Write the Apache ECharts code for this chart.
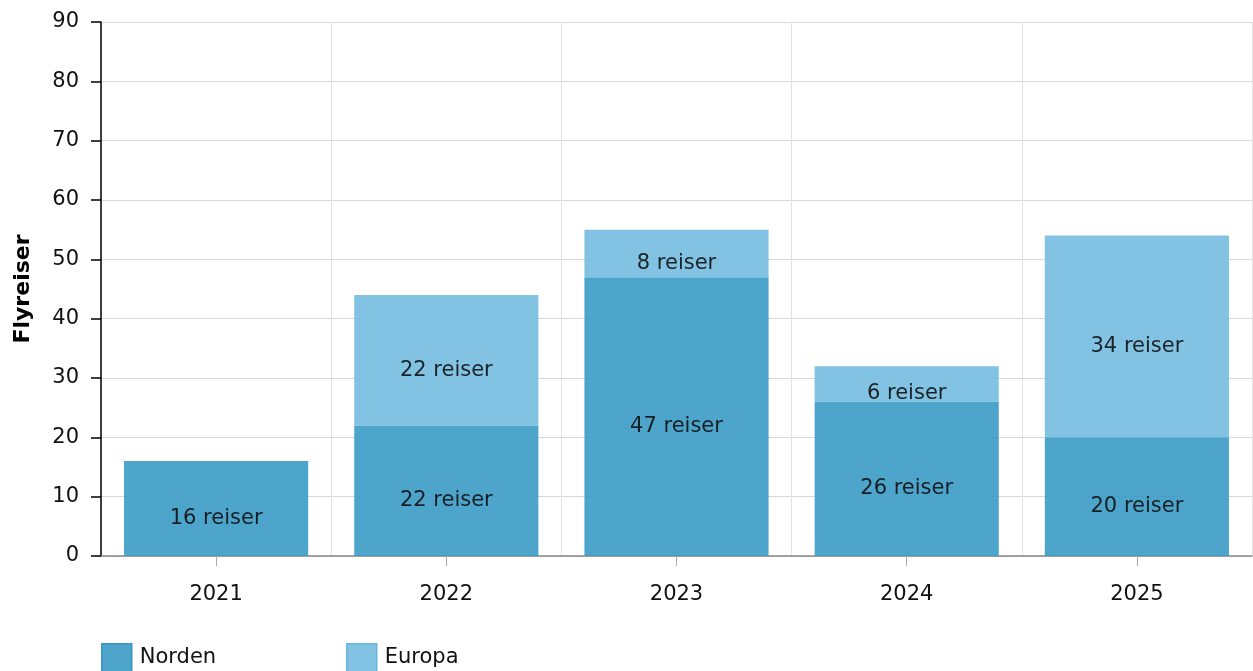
<!DOCTYPE html>
<html>
<head>
<meta charset="utf-8">
<script src="https://cdn.jsdelivr.net/npm/echarts@6/dist/echarts.min.js"></script>
<style>
html, body { margin: 0; padding: 0; background: #fff; }
#main { width: 1253px; height: 671px; }
</style>
</head>
<body>
<div id="main"></div>
<script>
var years = ['2021', '2022', '2023', '2024', '2025']
var norden = [16, 22, 47, 26, 20]
var europa = [0, 22, 8, 6, 34]
var yTicks = [0, 10, 20, 30, 40, 50, 60, 70, 80, 90]

var chart = echarts.init(document.getElementById('main'))
var font = 'DejaVu Sans, Verdana, sans-serif'

// etikett midt i stolpen
function lbl(){
	return {
		show: true,
		position: 'inside',
		offset: [0, 10],
		color: '#111',
		fontFamily: font,
		fontSize: 21,
		formatter: function(p){
			return p.value > 0 ? p.value + ' reiser' : ''
		}
	}
}

function leg(x, name, border){
	return {
		left: x,
		top: 643,
		padding: 0,
		itemWidth: 30,
		itemHeight: 28,
		icon: 'rect',
		itemStyle: { borderColor: border, borderWidth: 1.5 },
		textStyle: { fontFamily: font, fontSize: 21, color: '#111', padding: [12, 0, 0, 3] },
		data: [name]
	}
}

chart.setOption({
	animation: false,
	textStyle: { fontFamily: font },
	grid: { left: 101, right: 1, top: 22, bottom: 115, containLabel: false, outerBoundsMode: 'none' },
	legend: [leg(101, 'Norden', '#2f8fbf'), leg(346, 'Europa', '#5fb1dc')],
	xAxis: {
		type: 'category',
		data: years,
		axisLine: { lineStyle: { color: '#888', width: 1.5 } },
		axisTick: { show: true, length: 10, alignWithLabel: true, lineStyle: { color: '#aaa' } },
		axisLabel: { color: '#111', fontSize: 21, margin: 28, fontFamily: font },
		splitLine: { show: true, lineStyle: { color: '#e2e2e2' } }
	},
	yAxis: {
		type: 'value',
		min: yTicks[0],
		max: yTicks[yTicks.length - 1],
		interval: 10,
		name: 'Flyreiser',
		nameLocation: 'middle',
		nameGap: 67,
		nameTextStyle: { fontSize: 22, fontWeight: 'bold', color: '#000', fontFamily: font },
		axisLine: { show: true, lineStyle: { color: '#000', width: 1.5 } },
		axisTick: { show: true, length: 10, lineStyle: { color: '#000', width: 1.5 } },
		axisLabel: { color: '#111', fontSize: 21, margin: 22, fontFamily: font },
		splitLine: { lineStyle: { color: '#d8d8d8' } }
	},
	series: [{
		name: 'Norden',
		type: 'bar',
		stack: 'reiser',
		data: norden,
		barWidth: '80%',
		itemStyle: { color: '#3b9bc6', opacity: 0.9 },
		label: lbl()
	}, {
		name: 'Europa',
		type: 'bar',
		stack: 'reiser',
		data: europa,
		barWidth: '80%',
		itemStyle: { color: '#74bce0', opacity: 0.9 },
		label: lbl()
	}]
})
</script>
</body>
</html>
